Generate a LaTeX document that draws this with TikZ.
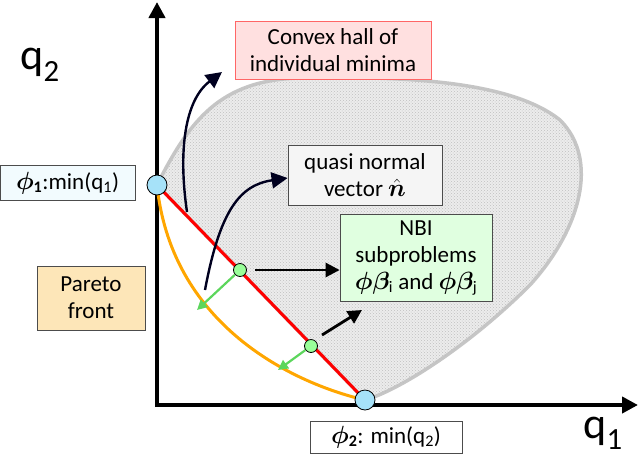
\documentclass[tikz,border=0pt]{standalone}
\usepackage{amsmath,bm}
\usepackage{fontspec}
\setmainfont{Carlito}
\usetikzlibrary{arrows.meta,patterns}
\begin{document}
\begin{tikzpicture}[x=1pt,y=-1pt,
  box/.style={draw=#1,line width=0.8pt,align=center,font=\fontsize{23}{27}\selectfont,inner sep=0pt},
  pt/.style={circle,draw=black,line width=0.8pt,inner sep=0pt,minimum size=#1},
  blk/.style={-{Triangle[length=14pt,width=14pt]},line width=2.8pt,black},
  crv/.style={-{Triangle[length=16pt,width=16pt]},line width=2.4pt,black!80!blue!60!black}]
\useasboundingbox (0,0) rectangle (640,456);
% blob
\path[fill=gray!15,draw=gray!45,line width=3.5pt]
  (157,185) .. controls (190,120) and (220,80) .. (300,78)
  .. controls (400,76) and (510,80) .. (560,120)
  .. controls (600,160) and (580,230) .. (530,285)
  .. controls (470,345) and (400,390) .. (365,400)
  -- cycle;
\fill[pattern=crosshatch dots,pattern color=gray!50]
  (157,185) .. controls (190,120) and (220,80) .. (300,78)
  .. controls (400,76) and (510,80) .. (560,120)
  .. controls (600,160) and (580,230) .. (530,285)
  .. controls (470,345) and (400,390) .. (365,400) -- cycle;
% axes
\coordinate (Y) at (157,2);
\coordinate (X) at (638,405);
\draw[line width=4.5pt,-{Triangle[length=16pt,width=16pt]}] (157,407) -- (Y);
\draw[line width=4.5pt,-{Triangle[length=16pt,width=16pt]}] (155,405) -- (X);
\node[font=\fontsize{44}{50}\selectfont] (q2) at (40,65) {q\textsubscript{2}};
\node[font=\fontsize{44}{50}\selectfont] (q1) at (603,433) {q\textsubscript{1}};
% curves
\coordinate (A) at (157,185);
\coordinate (B) at (365,400);
\draw[orange!70!yellow,line width=3pt] (A) .. controls (172,330) and (300,385) .. (B);
\draw[red,line width=3pt] (A) -- (B);
\node[pt=20pt,fill=cyan!35] (p1) at (A) {};
\node[pt=20pt,fill=cyan!35] (p2) at (B) {};
\node[pt=13pt,fill=green!40!white] (g1) at (240,270) {};
\node[pt=13pt,fill=green!40!white] (g2) at (311,346) {};
\coordinate (n1) at (197,310);
\coordinate (n2) at (278,370);
\draw[-{Triangle[length=10pt,width=10pt]},line width=2.2pt,green!60!gray!80!white] (g1) -- (n1);
\draw[-{Triangle[length=10pt,width=10pt]},line width=2.2pt,green!60!gray!80!white] (g2) -- (n2);
% boxes
\node[box=red!60,fill=red!12,minimum width=196pt,minimum height=58pt] (cv) at (333,50) {Convex hall of\\individual minima};
\node[box=black!70,fill=gray!8,minimum width=154pt,minimum height=60pt] (qn) at (365,175) {quasi normal\\vector $\hat{\bm{n}}$};
\node[box=black!70,fill=green!12,minimum width=152pt,minimum height=87pt] (nbi) at (416,258) {NBI\\subproblems\\$\bm{\phi\beta}_{\mathrm{i}}$ and $\bm{\phi\beta}_{\mathrm{j}}$};
\node[box=black!70,fill=yellow!30!orange!25,minimum width=108pt,minimum height=64pt] (pf) at (91,298) {Pareto\\front};
\node[box=black!70,fill=cyan!5,minimum width=135pt,minimum height=35pt] (m1) at (67.5,183) {$\bm{\phi}_{\mathbf 1}$:min(q\textsubscript{1})};
\node[box=black!70,fill=white,minimum width=152pt,minimum height=32pt] (m2) at (386,437) {$\bm{\phi}_{\mathbf 2}$: min(q\textsubscript{2})};
% arrows
\draw[blk] (255,270) -- (nbi.west |- 0,270);
\draw[blk] (322,335) -- (362,310);
\coordinate (c1) at (187,212);
\coordinate (c2) at (205,290);
\draw[crv] (c1) .. controls (178,150) and (185,100) .. (222,72);
\draw[crv] (c2) .. controls (220,210) and (240,185) .. (qn.west |- 0,178);
\end{tikzpicture}
\end{document}
